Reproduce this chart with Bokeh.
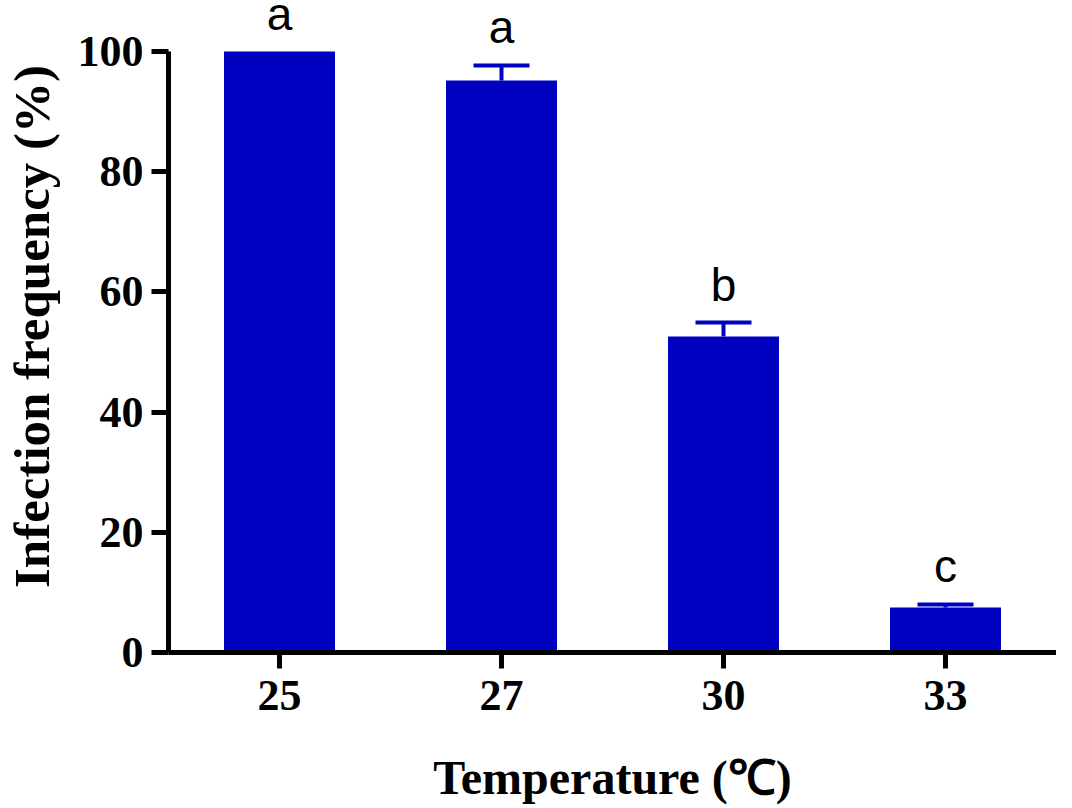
import numpy as np
from bokeh.plotting import figure
from bokeh.models import (ColumnDataSource, Range1d, FixedTicker, Whisker, TeeHead, LabelSet)
from bokeh.core.properties import value
from bokeh.embed import file_html
from bokeh.resources import INLINE

# ---- data ----
temperatures = ["25", "27", "30", "33"]
infection_freq = [100.0, 95.2, 52.6, 7.5]
sem = [0.0, 2.5, 2.3, 0.5]
letters = ["a", "a", "b", "c"]
y_ticks = [0, 20, 40, 60, 80, 100]

BLUE = "#0000C0"
SERIF = "Liberation Serif"

xpos = np.arange(len(temperatures))
vals = np.array(infection_freq)
errs = np.array(sem)

src = ColumnDataSource(dict(x=xpos, top=vals, err=errs, upper=vals + errs,
                            letter=letters))
has_err = errs > 0
err_src = ColumnDataSource(dict(x=xpos[has_err], lower=vals[has_err],
                                upper=(vals + errs)[has_err]))

# frame extends above 100 so that the letters above the bars are not clipped;
# the y axis itself is bounded to 0..100
p = figure(width=1056, height=808, output_backend="svg", toolbar_location=None,
           x_range=Range1d(-0.5, 3.5), y_range=Range1d(0, 108.5),
           min_border_left=157, min_border_right=0, min_border_top=0,
           min_border_bottom=156)
p.outline_line_color = None
p.grid.visible = False
p.background_fill_color = "white"

p.vbar(x="x", top="top", bottom=0, width=0.5, source=src,
       fill_color=BLUE, line_color=None)

wh = Whisker(base="x", lower="lower", upper="upper", source=err_src,
             line_color=BLUE, line_width=4,
             upper_head=TeeHead(size=56, line_color=BLUE, line_width=4),
             lower_head=None)
p.add_layout(wh)

labels = LabelSet(x="x", y="upper", text="letter", source=src,
                  text_align="center", text_baseline="alphabetic", y_offset=22,
                  text_font=value("Liberation Sans"), text_font_size="46px",
                  text_color="black")
p.add_layout(labels)

# x axis
xa = p.xaxis[0]
xa.ticker = FixedTicker(ticks=list(xpos))
xa.major_label_overrides = {int(i): t for i, t in zip(xpos, temperatures)}
xa.axis_line_width = 5
xa.axis_line_color = "black"
xa.major_tick_line_width = 5
xa.major_tick_out = 16
xa.major_tick_in = 0
xa.minor_tick_line_color = None
xa.major_label_text_font = SERIF
xa.major_label_text_font_style = "bold"
xa.major_label_text_font_size = "44px"
xa.major_label_text_color = "black"
xa.major_label_standoff = 12
xa.axis_label = "Temperature (℃)"
xa.axis_label_text_font = SERIF
xa.axis_label_text_font_style = "bold"
xa.axis_label_text_font_size = "48px"
xa.axis_label_text_color = "black"
xa.axis_label_standoff = 38

# y axis
ya = p.yaxis[0]
ya.ticker = FixedTicker(ticks=y_ticks)
ya.bounds = (0, 100)
ya.axis_line_width = 5
ya.axis_line_color = "black"
ya.major_tick_line_width = 5
ya.major_tick_out = 17
ya.major_tick_in = 0
ya.minor_tick_line_color = None
ya.major_label_text_font = SERIF
ya.major_label_text_font_style = "bold"
ya.major_label_text_font_size = "44px"
ya.major_label_text_color = "black"
ya.major_label_standoff = 8
ya.axis_label = "Infection frequency (%)"
ya.axis_label_text_font = SERIF
ya.axis_label_text_font_style = "bold"
ya.axis_label_text_font_size = "51px"
ya.axis_label_text_color = "black"
ya.axis_label_standoff = 15

open("out.html", "w").write(file_html(p, INLINE))
